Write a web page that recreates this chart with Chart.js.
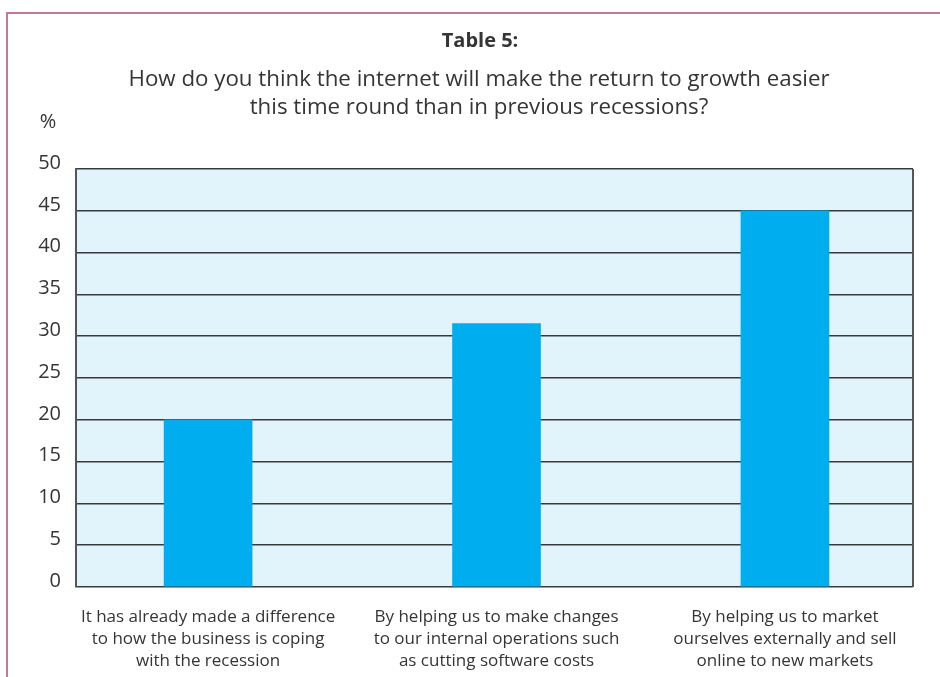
<!DOCTYPE html>
<html>
<head>
<meta charset="utf-8">
<script src="https://cdn.jsdelivr.net/npm/chart.js@4"></script>
<style>
  html, body { margin: 0; padding: 0; background: #fff; }
  #wrap { width: 940px; height: 677px; position: relative; }
</style>
</head>
<body>
<div id="wrap"><canvas id="barChart" width="940" height="677"></canvas></div>
<script>
const categories = [
    ['It has already made a difference', 'to how the business is coping', 'with the recession'],
    ['By helping us to make changes', 'to our internal operations such', 'as cutting software costs'],
    ['By helping us to market', 'ourselves externally and sell', 'online to new markets']
];
const percentages = [20, 31.5, 45];
const yTicks = [0, 5, 10, 15, 20, 25, 30, 35, 40, 45, 50];
const heading = 'Table 5:';
const question = [
    'How do you think the internet will make the return to growth easier',
    'this time round than in previous recessions?'
];

const textColor = '#353535';
const fontFamily = "'Open Sans', 'DejaVu Sans', sans-serif";

// frame, plot background and headings
const decorations = {
    id: 'decorations',
    beforeDraw(chart) {
        const ctx = chart.ctx;
        const area = chart.chartArea;
        ctx.save();
        ctx.strokeStyle = '#c97892';
        ctx.lineWidth = 2;
        ctx.strokeRect(7, 13, 960, 700);

        ctx.fillStyle = '#e1f3fb';
        ctx.fillRect(area.left, area.top, area.right - area.left, area.bottom - area.top);

        ctx.fillStyle = textColor;
        ctx.textAlign = 'center';
        ctx.textBaseline = 'middle';
        ctx.font = 'bold 20px ' + fontFamily;
        ctx.fillText(heading, 480, 41);
        ctx.font = '22.3px ' + fontFamily;
        ctx.fillText(question[0], 479, 80);
        ctx.fillText(question[1], 479, 108);

        ctx.font = '20px ' + fontFamily;
        ctx.fillText('%', 48, 122);
        ctx.restore();
    },
    afterDraw(chart) {
        const ctx = chart.ctx;
        const area = chart.chartArea;
        ctx.save();
        ctx.strokeStyle = '#555';
        ctx.lineWidth = 2;
        ctx.beginPath();
        ctx.moveTo(area.right, area.top);
        ctx.lineTo(area.right, area.bottom);
        ctx.stroke();
        ctx.restore();
    }
};

const barCtx = document.getElementById('barChart').getContext('2d');
const barChart = new Chart(barCtx, {
    type: 'bar',
    data: {
        datasets: [{
            data: percentages.map((v, i) => ({ x: i, y: v })),
            backgroundColor: '#00aeef',
            borderWidth: 0,
            barThickness: 88
        }]
    },
    options: {
        responsive: false,
        animation: false,
        layout: { padding: { top: 169, right: 27, left: 0, bottom: 0 } },
        plugins: {
            legend: { display: false },
            tooltip: { enabled: false }
        },
        scales: {
            x: {
                type: 'linear',
                offset: false,
                min: -0.458,
                max: 2.444,
                grid: { display: false },
                border: { display: false },
                afterBuildTicks: scale => {
                    scale.ticks = categories.map((c, i) => ({ value: i }));
                },
                afterFit: scale => { scale.height = 90; },
                ticks: {
                    color: textColor,
                    font: { family: fontFamily, size: 17, lineHeight: 1.3 },
                    padding: 11,
                    maxRotation: 0,
                    autoSkip: false,
                    callback: value => categories[value]
                }
            },
            y: {
                min: 0,
                max: 50,
                afterBuildTicks: scale => {
                    scale.ticks = yTicks.map(v => ({ value: v }));
                },
                afterFit: scale => { scale.width = 76; },
                grid: { color: '#3a3a3a', lineWidth: 1.6, drawTicks: false },
                border: { color: '#555', width: 2 },
                ticks: {
                    color: textColor,
                    font: { family: fontFamily, size: 20 },
                    padding: 15,
                    labelOffset: -6
                }
            }
        }
    },
    plugins: [decorations]
});
</script>
</body>
</html>
